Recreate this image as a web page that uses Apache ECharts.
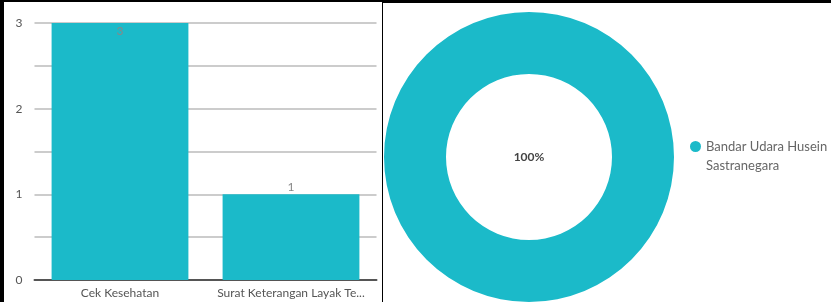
<!DOCTYPE html>
<html>
<head>
<meta charset="utf-8">
<script src="https://cdn.jsdelivr.net/npm/echarts@6/dist/echarts.min.js"></script>
<style>
  html, body { margin: 0; padding: 0; background: #000; width: 831px; height: 302px; overflow: hidden; }
  #bar { position: absolute; left: 4px; top: 2px; width: 378px; height: 300px; background: #fff; }
  #pie { position: absolute; left: 383px; top: 3px; width: 448px; height: 299px; background: #fff; }
</style>
</head>
<body>
<div id="bar"></div>
<div id="pie"></div>
<script>
var barCategories = ['Cek Kesehatan', 'Surat Keterangan Layak Terbang']
var barValues = [3, 1]
var pieNames = ['Bandar Udara Husein Sastranegara']
var pieValues = [1]

var teal = '#1bbac9'
var font = 'Lato'

var barChart = echarts.init(document.getElementById('bar'))
barChart.setOption({
  animation: false,
  grid: { left: 30.5, right: 5.5, top: 21, bottom: 22 },
  xAxis: {
    type: 'category',
    data: barCategories,
    axisTick: { show: false },
    axisLine: { lineStyle: { color: '#555', width: 2 } },
    axisLabel: {
      interval: 0,
      color: '#555',
      fontSize: 12,
      fontFamily: font,
      margin: 7,
      width: 152,
      overflow: 'truncate',
      ellipsis: '...'
    }
  },
  yAxis: {
    type: 'value',
    min: 0,
    max: 3,
    interval: 0.5,
    axisLabel: {
      color: '#555',
      fontSize: 12,
      fontFamily: font,
      margin: 12,
      formatter: function (v) { return v % 1 === 0 ? String(v) : '' }
    },
    splitLine: { lineStyle: { color: '#bbb', width: 1.5 } }
  },
  series: [{
    type: 'bar',
    barWidth: '80%',
    itemStyle: { color: teal },
    data: barValues.map(function (v, i) {
      return {
        value: v,
        label: {
          show: true,
          position: i === 0 ? 'insideTop' : 'top',
          distance: i === 0 ? 2 : 1,
          color: '#888',
          fontSize: 12,
          fontFamily: font
        }
      }
    })
  }]
})

var pieChart = echarts.init(document.getElementById('pie'))
pieChart.setOption({
  animation: false,
  legend: {
    orient: 'vertical',
    left: 302,
    top: 110,
    icon: 'circle',
    itemWidth: 11,
    itemHeight: 11,
    formatter: function (name) { return '\n' + name.replace(/ (\S+)$/, '\n$1') },
    textStyle: {
      color: '#666',
      fontSize: 13,
      fontFamily: font,
      lineHeight: 19
    }
  },
  series: [{
    type: 'pie',
    center: [146, 154],
    radius: [83, 145],
    itemStyle: { color: teal },
    label: {
      show: true,
      position: 'center',
      formatter: '{d}%',
      color: '#444',
      fontSize: 12,
      fontWeight: 'bold',
      fontFamily: font
    },
    labelLine: { show: false },
    emphasis: { disabled: true },
    data: pieNames.map(function (n, i) { return { name: n, value: pieValues[i] } })
  }]
})
</script>
</body>
</html>
